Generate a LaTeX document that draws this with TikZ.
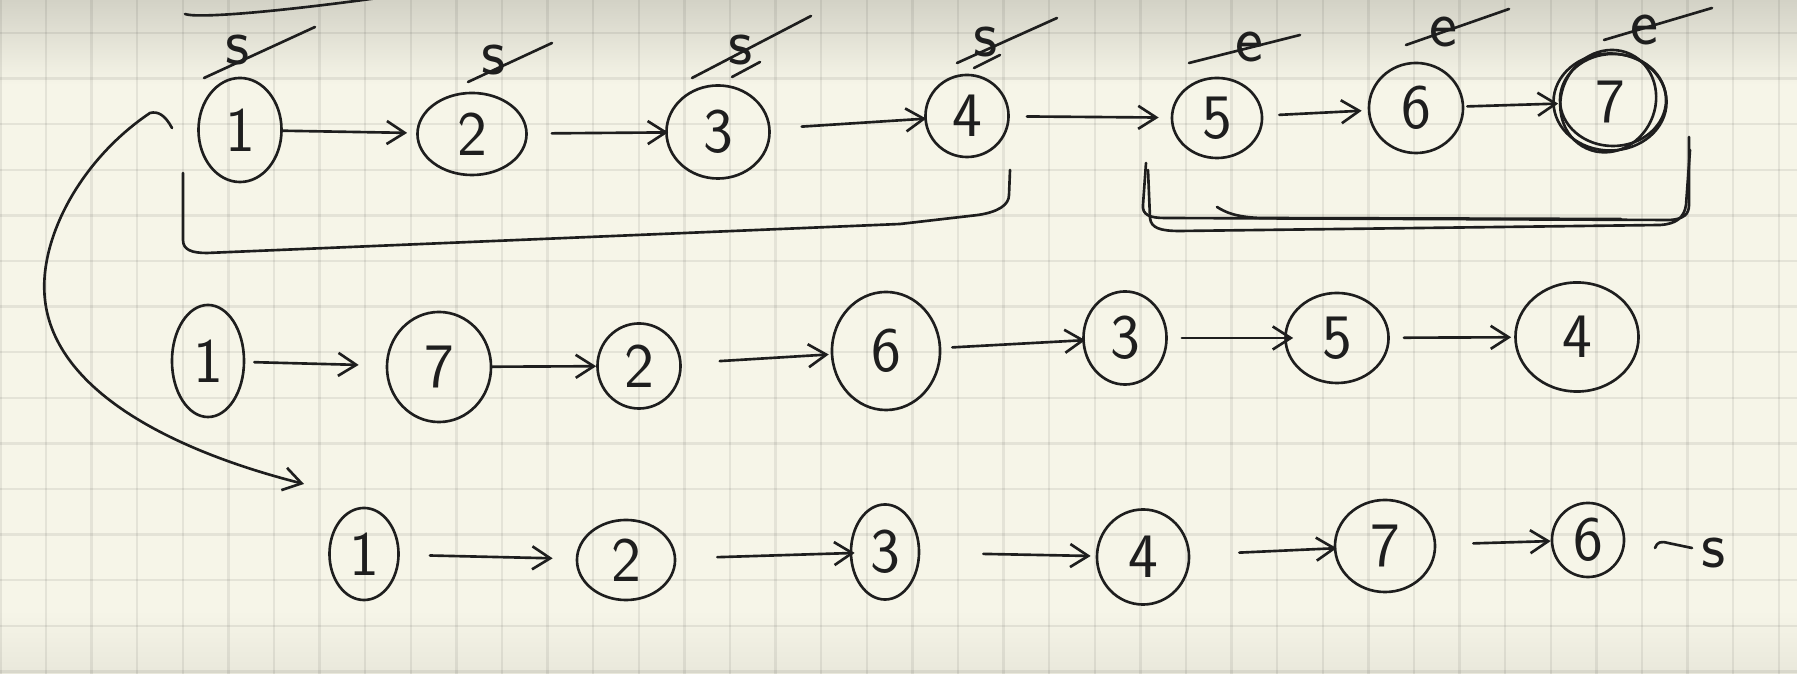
\documentclass[tikz,border=0pt]{standalone}
\usetikzlibrary{shapes.geometric,arrows.meta}
\definecolor{paper}{HTML}{F6F5E8}
\definecolor{topg}{HTML}{D3D2C6}
\definecolor{botg}{HTML}{E9E8DB}
\definecolor{ink}{HTML}{1E1E1E}
\tikzset{
  pen/.style={draw=ink, line width=0.75pt, line cap=round, line join=round},
  nd/.style={ellipse, pen, inner sep=0pt, text=ink, font=\sffamily\fontsize{18}{20}\selectfont},
  lbl/.style={inner sep=0pt, text=ink, font=\sffamily\fontsize{19}{20}\selectfont},
  arr/.style={pen, -{Straight Barb[length=1.8mm,width=2.3mm]}},
  gridline/.style={draw=black, opacity=0.07, line width=0.7pt},
}
\begin{document}
\begin{tikzpicture}[x=0.01cm,y=-0.01cm]
\useasboundingbox (0,0) rectangle (1797,674);
% paper
\fill[paper] (0,0) rectangle (1797,674);
\shade[top color=topg, bottom color=paper] (0,0) rectangle (1797,85);
\shade[top color=paper, bottom color=botg] (0,610) rectangle (1797,674);
\foreach \i in {0,...,39} \draw[gridline] ({0.4+45.6*\i},0) -- ({0.4+45.6*\i},674);
\foreach \j in {0,...,14} \draw[gridline] (0,{33+45.6*\j}) -- (1797,{33+45.6*\j});

% ---------- row 1 ----------
\node[nd, minimum width=0.83cm, minimum height=1.04cm] (t1) at (240,130) {1};
\node[nd, minimum width=1.09cm, minimum height=0.82cm] (t2) at (472,134) {2};
\node[nd, minimum width=1.03cm, minimum height=0.93cm] (t3) at (718,132) {3};
\node[nd, minimum width=0.83cm, minimum height=0.82cm] (t4) at (967,116) {4};
\node[nd, minimum width=0.90cm, minimum height=0.80cm] (t5) at (1217,118) {5};
\node[nd, minimum width=0.94cm, minimum height=0.90cm] (t6) at (1416,108) {6};
\node[nd, minimum width=1.13cm, minimum height=0.97cm] (t7) at (1610,102) {7};
\draw[pen] ([xshift=0.03cm,yshift=0.02cm]t7.center) ellipse [x radius=0.53cm, y radius=0.46cm];
\draw[pen, rotate around={-25:(t7.center)}] ([xshift=-0.02cm]t7.center) ellipse [x radius=0.47cm, y radius=0.52cm];

\draw[arr, shorten <=0mm,   shorten >=0.9mm]  (t1) -- (t2);
\draw[arr, shorten <=2.4mm, shorten >=-0.3mm] (t2) -- (t3);
\draw[arr, shorten <=3.1mm, shorten >=-0.2mm] (t3) -- (t4);
\draw[arr, shorten <=1.7mm, shorten >=1.2mm]  (t4) -- (t5);
\draw[arr, shorten <=1.6mm, shorten >=0.6mm]  (t5) -- (t6);
\draw[arr, shorten <=0.3mm, shorten >=-0.6mm] (t6) -- (t7);

% start / end marks, struck through
\node[lbl] (s1) at (238,50) {s};
\node[lbl] (s2) at (494,60) {s};
\node[lbl] (s3) at (741,50) {s};
\node[lbl] (s4) at (986,42) {s};
\node[lbl] (e5) at (1249,47) {e};
\node[lbl] (e6) at (1443,32) {e};
\node[lbl] (e7) at (1644,30) {e};
\draw[pen] (204,78) -- (315,27);
\draw[pen] (468,82) -- (552,43);
\draw[pen] (692,78) -- (811,16);
\draw[pen] (732,77) -- (760,62);
\draw[pen] (957,63) -- (1057,18);
\draw[pen] (974,68) -- (1000,55);
\draw[pen] (1189,63) -- (1300,35);
\draw[pen] (1406,45) -- (1509,9);
\draw[pen] (1604,40) -- (1712,8);

% top stroke
\draw[pen] (185,14) .. controls (195,18) and (260,14) .. (378,-2);

% bracket under 1..4
\draw[pen] (183,173) -- (183,240) .. controls (183,250) and (192,253) .. (207,253)
  -- (900,224) -- (978,215) .. controls (998,212) and (1009,205) .. (1009,195) -- (1010,170);

% bracket under 5..7
\draw[pen] (1146,163) -- (1143,205) .. controls (1142,215) and (1150,218) .. (1165,218)
  -- (1670,220) .. controls (1684,219) and (1689,214) .. (1689,205) -- (1689,137);
\draw[pen] (1148,170) -- (1150,218) .. controls (1151,228) and (1160,231) .. (1180,231)
  -- (1660,225) .. controls (1676,224) and (1684,218) .. (1686,205) -- (1690,150);
\draw[pen] (1217,207) .. controls (1225,212) and (1235,217) .. (1260,218) -- (1621,219);

% big curved arrow from row 1 to row 3
\coordinate (cs) at (172,128);
\coordinate (ce) at (304,484);
\draw[arr] (cs) .. controls (165,115) and (158,111) .. (150,113)
  .. controls (80,160) and (38,240) .. (45,300)
  .. controls (55,390) and (170,450) .. (ce);

% ---------- row 2 ----------
\node[nd, minimum width=0.72cm, minimum height=1.12cm] (m1) at (208,361) {1};
\node[nd, minimum width=1.04cm, minimum height=1.10cm] (m7) at (439,367) {7};
\node[nd, minimum width=0.83cm, minimum height=0.85cm] (m2) at (639,366) {2};
\node[nd, minimum width=1.08cm, minimum height=1.18cm] (m6) at (886,351) {6};
\node[nd, minimum width=0.83cm, minimum height=0.93cm] (m3) at (1125,338) {3};
\node[nd, minimum width=1.03cm, minimum height=0.90cm] (m5) at (1337,338) {5};
\node[nd, minimum width=1.23cm, minimum height=1.09cm] (m4) at (1577,337) {4};

\draw[arr, shorten <=0.9mm, shorten >=2.7mm]  (m1) -- (m7);
\draw[arr, shorten <=0mm,   shorten >=0mm]    (m7) -- (m2);
\draw[arr, shorten <=3.8mm, shorten >=0.2mm]  (m2) -- (m6);
\draw[arr, shorten <=1.1mm, shorten >=-0.3mm] (m6) -- (m3);
\draw[arr, shorten <=1.4mm, shorten >=-0.9mm] (m3) -- (m5);
\draw[arr, shorten <=1.4mm, shorten >=0.3mm]  (m5) -- (m4);

% ---------- row 3 ----------
\node[nd, minimum width=0.69cm, minimum height=0.92cm] (b1) at (364,554) {1};
\node[nd, minimum width=0.98cm, minimum height=0.80cm] (b2) at (626,560) {2};
\node[nd, minimum width=0.68cm, minimum height=0.95cm] (b3) at (885,552) {3};
\node[nd, minimum width=0.92cm, minimum height=0.95cm] (b4) at (1143,557) {4};
\node[nd, minimum width=1.00cm, minimum height=0.92cm] (b7) at (1385,546) {7};
\node[nd, minimum width=0.72cm, minimum height=0.74cm] (b6) at (1588,540) {6};

\draw[arr, shorten <=3.0mm, shorten >=2.3mm]  (b1) -- (b2);
\draw[arr, shorten <=4.1mm, shorten >=-0.5mm] (b2) -- (b3);
\draw[arr, shorten <=6.3mm, shorten >=0.5mm]  (b3) -- (b4);
\draw[arr, shorten <=4.9mm, shorten >=-0.3mm] (b4) -- (b7);
\draw[arr, shorten <=3.7mm, shorten >=0mm]    (b7) -- (b6);

% unfinished tail
\node[lbl] (tail) at (1714,553) {s};
\coordinate (tl0) at (1655,548);
\coordinate (tl1) at (1692,548);
\draw[pen] (tl0) .. controls (1657,542) and (1661,541) .. (1668,543) -- (tl1);
\end{tikzpicture}
\end{document}
